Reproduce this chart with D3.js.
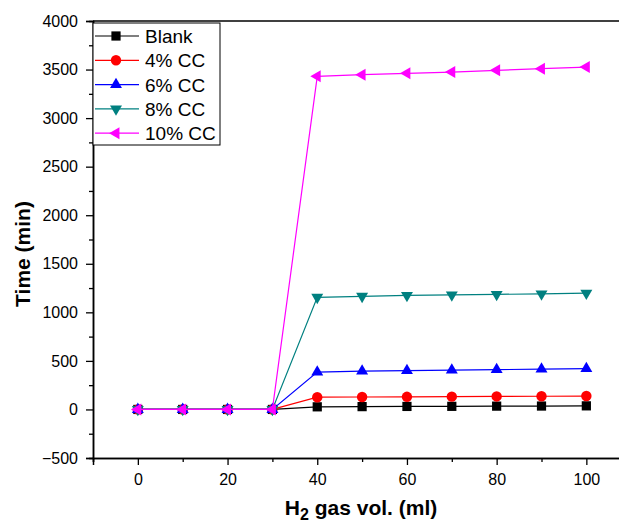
<!DOCTYPE html>
<html>
<head>
<meta charset="utf-8">
<script src="https://cdn.jsdelivr.net/npm/d3@7"></script>
<style>
  body { margin: 0; background: #fff; }
  svg { font-family: "Liberation Sans", Arial, sans-serif; }
</style>
</head>
<body>
<svg></svg>
<script>
// data
const gasVol = [0, 10, 20, 30, 40, 50, 60, 70, 80, 90, 100];
const blank = [0, 0, 0, 0, 27, 29, 31, 32, 34, 35, 37];
const cc4 = [0, 0, 0, 0, 126, 128, 130, 132, 134, 136, 138];
const cc6 = [0, 0, 0, 0, 385, 395, 400, 405, 410, 415, 420];
const cc8 = [0, 0, 0, 0, 1155, 1165, 1175, 1180, 1185, 1190, 1198];
const cc10 = [0, 0, 0, 0, 3430, 3447, 3461, 3474, 3492, 3509, 3526];
const seriesNames = ['Blank', '4% CC', '6% CC', '8% CC', '10% CC'];
const yTicks = [-500, 0, 500, 1000, 1500, 2000, 2500, 3000, 3500, 4000];
const xTicks = [0, 20, 40, 60, 80, 100];

const size = {w: 619, h: 524};
const plot = {l: 93, t: 21, b: 458};
const svg = d3.select('svg').attr('width', size.w).attr('height', size.h);

let x = d3.scaleLinear().domain([-10, 110]).range([plot.l, plot.l + 120 * 4.485]);
let y = d3.scaleLinear().domain([-500, 4000]).range([plot.b, plot.t]);

const series = [
  {name: seriesNames[0], vals: blank, color: '#000000', sym: d3.symbolSquare, rot: 0, s: 85},
  {name: seriesNames[1], vals: cc4, color: '#ff0000', sym: d3.symbolCircle, rot: 0, s: 85},
  {name: seriesNames[2], vals: cc6, color: '#0000ff', sym: d3.symbolTriangle, rot: 0, s: 62},
  {name: seriesNames[3], vals: cc8, color: '#008080', sym: d3.symbolTriangle, rot: 180, s: 62},
  {name: seriesNames[4], vals: cc10, color: '#ff00ff', sym: d3.symbolTriangle, rot: -90, s: 62}
];

// frame: top line (right side is cut off by the window)
svg.append('line')
  .attr('x1', plot.l).attr('x2', size.w)
  .attr('y1', plot.t).attr('y2', plot.t)
  .attr('stroke', '#000').attr('stroke-width', 1.5);

// axes
let xAxis = d3.axisBottom(x).tickValues(xTicks).tickSize(7).tickPadding(9).tickFormat(d3.format('d'));
let xMinor = d3.axisBottom(x).tickValues([-10, 10, 30, 50, 70, 90, 110]).tickSize(4).tickFormat('');
let yAxis = d3.axisLeft(y).tickValues(yTicks).tickSize(7).tickPadding(8).tickFormat(d3.format('d'));
let yMinor = d3.axisLeft(y).tickValues(d3.range(-250, 4000, 500)).tickSize(4).tickFormat('');

function styleAxis(g) {
  g.selectAll('.domain').attr('stroke', '#000').attr('stroke-width', 1.5);
  g.selectAll('.tick line').attr('stroke', '#000').attr('stroke-width', 1.3);
  g.selectAll('text').attr('font-size', 16).attr('fill', '#000')
    .attr('font-family', '"Liberation Sans", Arial, sans-serif');
}

svg.append('g').attr('transform', `translate(0,${plot.b})`).call(xMinor).call(styleAxis);
svg.append('g').attr('transform', `translate(0,${plot.b})`).call(xAxis).call(styleAxis);
svg.append('g').attr('transform', `translate(${plot.l},0)`).call(yMinor).call(styleAxis);
svg.append('g').attr('transform', `translate(${plot.l},0)`).call(yAxis).call(styleAxis);

// lines and markers
let line = d3.line().x((d, i) => x(gasVol[i])).y(d => y(d));
series.forEach(function (s) {
  let g = svg.append('g');
  g.append('path').datum(s.vals)
    .attr('d', line)
    .attr('fill', 'none')
    .attr('stroke', s.color)
    .attr('stroke-width', 1.2);
  g.selectAll('path.mk').data(s.vals).enter().append('path')
    .classed('mk', true)
    .attr('d', d3.symbol().type(s.sym).size(s.s))
    .attr('transform', (d, i) => `translate(${x(gasVol[i])},${y(d)}) rotate(${s.rot})`)
    .attr('fill', s.color);
});

// legend
let leg = svg.append('g');
leg.append('rect')
  .attr('x', plot.l).attr('y', 23).attr('width', 127).attr('height', 122)
  .attr('fill', '#fff').attr('stroke', '#000').attr('stroke-width', 1);
series.forEach(function (s, i) {
  let yy = 36 + i * 24.3;
  leg.append('line').attr('x1', 95).attr('x2', 139).attr('y1', yy).attr('y2', yy)
    .attr('stroke', s.color).attr('stroke-width', 1.2);
  leg.append('path')
    .attr('d', d3.symbol().type(s.sym).size(s.s))
    .attr('transform', `translate(116,${yy}) rotate(${s.rot})`)
    .attr('fill', s.color);
  leg.append('text').attr('x', 145).attr('y', yy + 7)
    .attr('font-size', 19).text(s.name);
});

// axis titles
svg.append('text')
  .attr('transform', 'translate(30,254) rotate(-90)')
  .attr('text-anchor', 'middle')
  .attr('font-size', 21).attr('font-weight', 'bold')
  .text('Time (min)');

let xt = svg.append('text')
  .attr('x', 361).attr('y', 515)
  .attr('text-anchor', 'middle')
  .attr('font-size', 21).attr('font-weight', 'bold');
xt.append('tspan').text('H');
xt.append('tspan').attr('font-size', 16).attr('dy', 5).text('2');
xt.append('tspan').attr('dy', -5).text(' gas vol. (ml)');
</script>
</body>
</html>
